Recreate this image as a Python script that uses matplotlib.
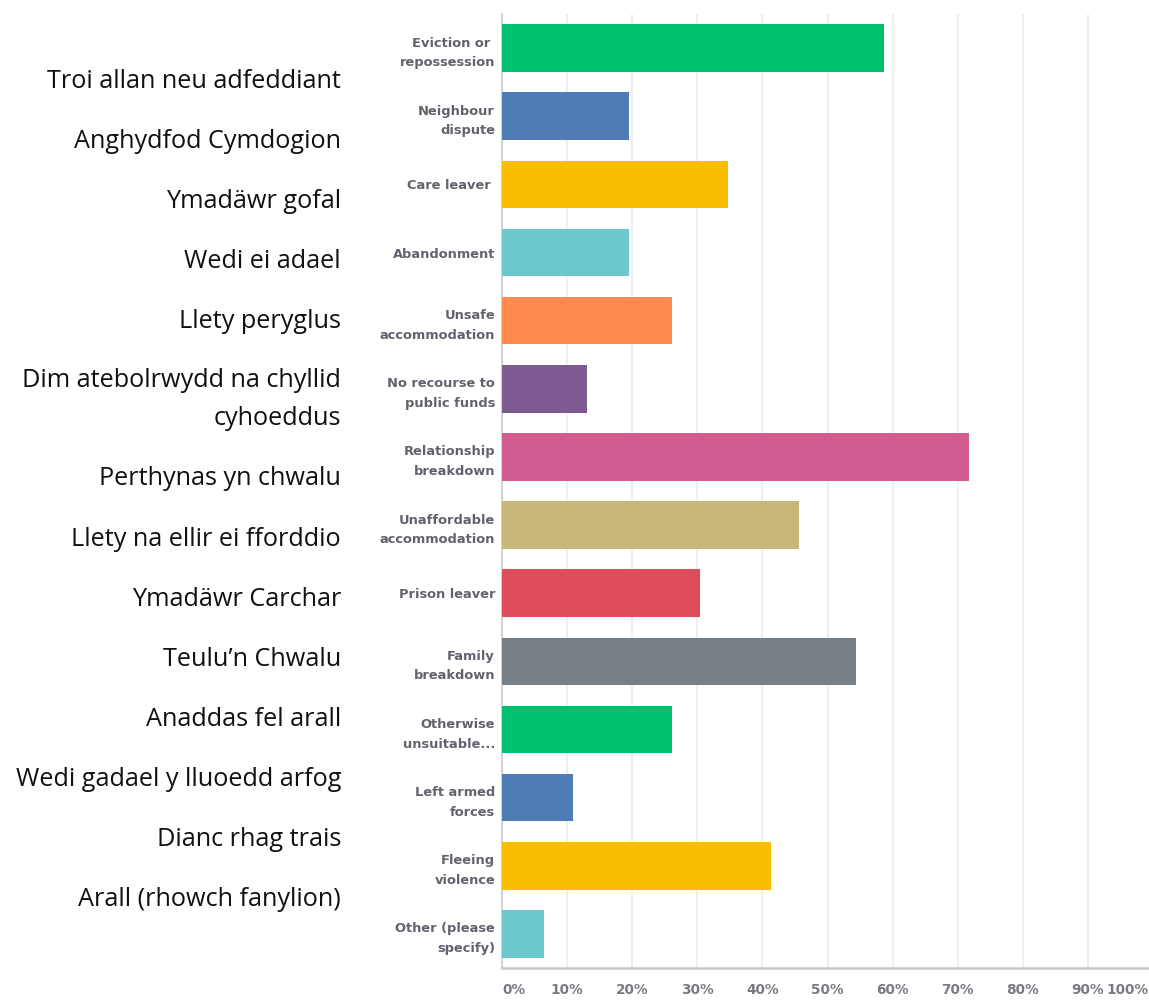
import matplotlib
matplotlib.use("Agg")
import matplotlib.pyplot as plt
from matplotlib.transforms import ScaledTranslation

# ---- data ----
categories = [
    "Eviction or \nrepossession", "Neighbour\ndispute", "Care leaver ", "Abandonment",
    "Unsafe\naccommodation", "No recourse to\npublic funds", "Relationship\nbreakdown",
    "Unaffordable\naccommodation", "Prison leaver", "Family\nbreakdown",
    "Otherwise\nunsuitable...", "Left armed\nforces", "Fleeing\nviolence",
    "Other (please\nspecify)",
]
welsh_labels = [
    "Troi allan neu adfeddiant", "Anghydfod Cymdogion", "Ymadäwr gofal", "Wedi ei adael",
    "Llety peryglus", "Dim atebolrwydd na chyllid\ncyhoeddus", "Perthynas yn chwalu",
    "Llety na ellir ei fforddio", "Ymadäwr Carchar", "Teulu\u2019n Chwalu",
    "Anaddas fel arall", "Wedi gadael y lluoedd arfog", "Dianc rhag trais",
    "Arall (rhowch fanylion)",
]
percent = [58.70, 19.57, 34.78, 19.57, 26.09, 13.04, 71.74, 45.65, 30.43, 54.35,
           26.09, 10.87, 41.30, 6.52]
xticks = [0, 10, 20, 30, 40, 50, 60, 70, 80, 90, 100]
xtick_labels = ["0%", "10%", "20%", "30%", "40%", "50%", "60%", "70%", "80%", "90%", "100%"]
colors = ["#00bf6f", "#507cb6", "#f9be00", "#6bc8cd", "#ff8b4f", "#7d5a91", "#d25c8f",
          "#c7b779", "#dd4d5b", "#767e86", "#00bf6f", "#507cb6", "#f9be00", "#6bc8cd"]

W, H = 1149, 1007
fig = plt.figure(figsize=(W / 100, H / 100), dpi=100)
fig.patch.set_facecolor("white")

ax_left, ax_right, ax_top, ax_bottom = 502, 1153, 14, 968
ax = fig.add_axes([ax_left / W, (H - ax_bottom) / H, (ax_right - ax_left) / W,
                   (ax_bottom - ax_top) / H])

y = list(range(len(categories)))
ax.barh(y, percent, height=0.70, color=colors, zorder=3)
ax.set_xlim(0, 100)
ax.set_ylim(len(categories) - 0.5, -0.5)

ax.set_yticks(y)
ax.set_yticklabels(categories, fontsize=9.4, fontweight="bold", color="#62626d",
                   linespacing=1.65)
ax.tick_params(axis="y", length=0, pad=5)

ax.set_xticks(xticks)
ax.set_xticklabels(xtick_labels, fontsize=9.8, fontweight="bold", color="#7a7a82")
ax.tick_params(axis="x", length=0, pad=11)
tl = ax.get_xticklabels()
tl[0].set_horizontalalignment("left")
tl[-1].set_horizontalalignment("right")
tl[-1].set_transform(tl[-1].get_transform() + ScaledTranslation(-3 / 72, 0, fig.dpi_scale_trans))

ax.grid(axis="x", color="#efefef", linewidth=1.5, zorder=0)
ax.grid(axis="y", visible=False)
for s in ["top", "right"]:
    ax.spines[s].set_visible(False)
ax.spines["left"].set_color("#d4d4d4")
ax.spines["left"].set_linewidth(1.5)
ax.spines["bottom"].set_color("#c8c8c8")
ax.spines["bottom"].set_linewidth(1.8)
ax.set_axisbelow(True)

# Welsh labels on the left
first_y, para_step, line_step, right_x = 81, 60, 38, 341
cur = first_y
for lab in welsh_labels:
    lines = lab.split("\n")
    for j, line in enumerate(lines):
        fig.text(right_x / W, 1 - (cur + j * line_step) / H, line, ha="right", va="center",
                 fontsize=18.2, family=["Open Sans", "DejaVu Sans"], color="#111111")
    cur += para_step + (len(lines) - 1) * line_step

fig.savefig("out.png", dpi=100, facecolor="white")
